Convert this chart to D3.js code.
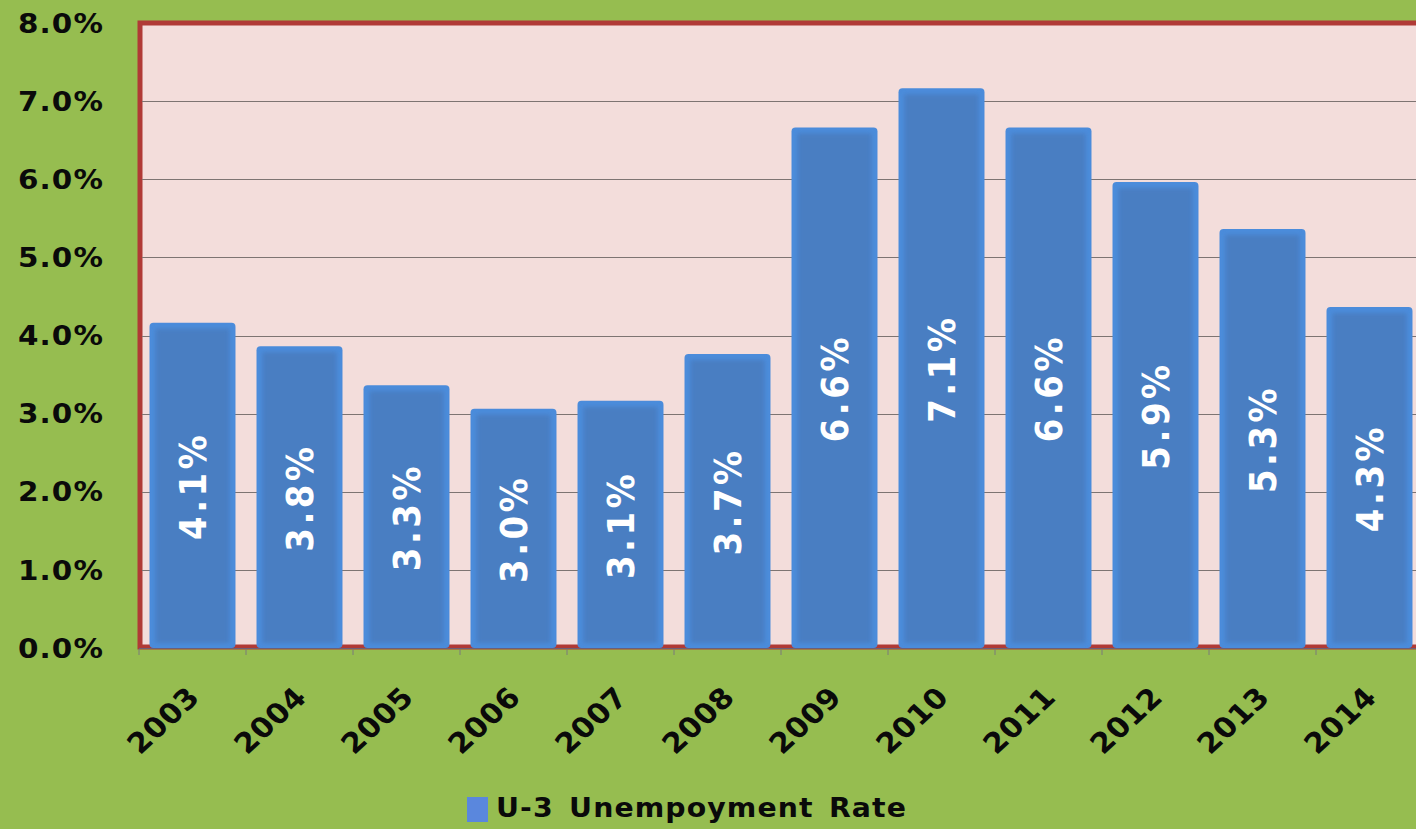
<!DOCTYPE html>
<html>
<head>
<meta charset="utf-8">
<script src="https://cdn.jsdelivr.net/npm/d3@7"></script>
<style>
  html, body { margin: 0; padding: 0; background: #96bd50; }
  svg { display: block; }
  text { font-family: "DejaVu Sans", Verdana, sans-serif; font-weight: bold; }
</style>
</head>
<body>
<div id="chart"></div>
<script>
// ********* DATA *********
var years = ["2003", "2004", "2005", "2006", "2007", "2008", "2009", "2010", "2011", "2012", "2013", "2014"];
var rates = [4.1, 3.8, 3.3, 3.0, 3.1, 3.7, 6.6, 7.1, 6.6, 5.9, 5.3, 4.3];
var yTicks = [0, 1, 2, 3, 4, 5, 6, 7, 8];
var seriesName = "U-3 Unempoyment Rate";

const width = 1416;
const height = 829;
var plot = {left: 139, top: 23, bottom: 648, bandW: 107};
var stretch = 1.09; // the original picture is a bit wider than tall

var svg = d3.select("#chart").append("svg")
  .attr("width", width)
  .attr("height", height);

svg.append("rect")
  .attr("width", width).attr("height", height)
  .attr("fill", "#96bd50");

var defs = svg.append("defs");
defs.append("filter").attr("id", "soft")
  .attr("x", "-10%").attr("y", "-10%").attr("width", "120%").attr("height", "120%")
  .append("feGaussianBlur").attr("stdDeviation", 2);

// ******** SCALES *********
var x = d3.scaleBand()
  .domain(years)
  .range([plot.left, plot.left + plot.bandW * years.length])
  .paddingInner(0.29)
  .paddingOuter(0.145);

var y = d3.scaleLinear()
  .domain([0, 8])
  .range([plot.bottom, plot.top]);

// ******** PLOT AREA *********
svg.append("rect")
  .attr("x", plot.left + 1).attr("y", plot.top)
  .attr("width", width + 40 - plot.left).attr("height", plot.bottom - plot.top - 1)
  .attr("fill", "#f3dddb")
  .attr("stroke", "#b03a36")
  .attr("stroke-width", 5);

// gridlines
svg.append("g").selectAll("line")
  .data(yTicks.filter(function(d){ return d > 0 && d < 8; }))
  .enter().append("line")
  .attr("x1", plot.left + 3).attr("x2", width)
  .attr("y1", function(d){ return Math.round(y(d)) + 0.5; })
  .attr("y2", function(d){ return Math.round(y(d)) + 0.5; })
  .attr("stroke", "#7d7472")
  .attr("stroke-width", 1.2);

// y tick labels
svg.append("g").selectAll("text")
  .data(yTicks)
  .enter().append("text")
  .attr("transform", function(d){
    return `translate(104, ${y(d)}) scale(${stretch}, 1)`;
  })
  .attr("dy", "0.36em")
  .attr("text-anchor", "end")
  .style("font-size", "27px")
  .style("letter-spacing", "1px")
  .attr("fill", "#0a0a0a")
  .text(function(d){ return d.toFixed(1) + "%"; });

// ******** BARS *********
var glow = 5;
var bars = svg.append("g").selectAll(".bar")
  .data(rates)
  .enter().append("g")
  .attr("class", "bar");

bars.append("rect")
  .attr("x", function(d, i){ return x(years[i]) - glow; })
  .attr("y", function(d){ return y(d) - glow; })
  .attr("width", x.bandwidth() + 2 * glow)
  .attr("height", function(d){ return plot.bottom - y(d) + glow; })
  .attr("rx", 4)
  .attr("fill", "#4b8cdb");

bars.append("rect")
  .attr("x", function(d, i){ return x(years[i]) + 1; })
  .attr("y", function(d){ return y(d) + 1; })
  .attr("width", x.bandwidth() - 2)
  .attr("height", function(d){ return plot.bottom - y(d) - 6; })
  .attr("fill", "#4a7ec2")
  .attr("filter", "url(#soft)");

// bar value labels
bars.append("text")
  .attr("transform", function(d, i){
    var cx = x(years[i]) + x.bandwidth() / 2;
    var cy = (y(d) + plot.bottom) / 2;
    return `translate(${cx}, ${cy}) scale(1.12, 1) rotate(-90)`;
  })
  .attr("text-anchor", "middle")
  .attr("dy", "0.36em")
  .attr("dx", "2px")
  .style("font-size", "34px")
  .style("letter-spacing", "3.5px")
  .attr("fill", "#ffffff")
  .text(function(d){ return d.toFixed(1) + "%"; });

// ******** X AXIS *********
svg.append("line")
  .attr("x1", plot.left).attr("x2", width)
  .attr("y1", plot.bottom + 0.5).attr("y2", plot.bottom + 0.5)
  .attr("stroke", "#6d5f78")
  .attr("stroke-width", 1);

svg.append("g").selectAll("line")
  .data(d3.range(years.length + 1))
  .enter().append("line")
  .attr("x1", function(i){ return plot.left + i * plot.bandW; })
  .attr("x2", function(i){ return plot.left + i * plot.bandW; })
  .attr("y1", plot.bottom + 1).attr("y2", plot.bottom + 7)
  .attr("stroke", "#7a7a7a");

svg.append("g").selectAll("text")
  .data(years)
  .enter().append("text")
  .attr("transform", function(d){
    return `translate(${x(d) + x.bandwidth() / 2 + 9}, 699) scale(${stretch}, 1) rotate(-45)`;
  })
  .attr("text-anchor", "end")
  .style("font-size", "28px")
  .style("letter-spacing", "0.5px")
  .attr("fill", "#0a0a0a")
  .text(function(d){ return d; });

// ******** LEGEND *********
var legend = svg.append("g").attr("transform", "translate(467, 797)");
legend.append("rect")
  .attr("width", 21).attr("height", 25)
  .attr("fill", "#5a87dd");
legend.append("text")
  .attr("transform", `translate(29, 20) scale(${stretch}, 1)`)
  .style("font-size", "26px")
  .style("letter-spacing", "1px")
  .style("word-spacing", "4px")
  .attr("fill", "#0a0a0a")
  .text(seriesName);
</script>
</body>
</html>
